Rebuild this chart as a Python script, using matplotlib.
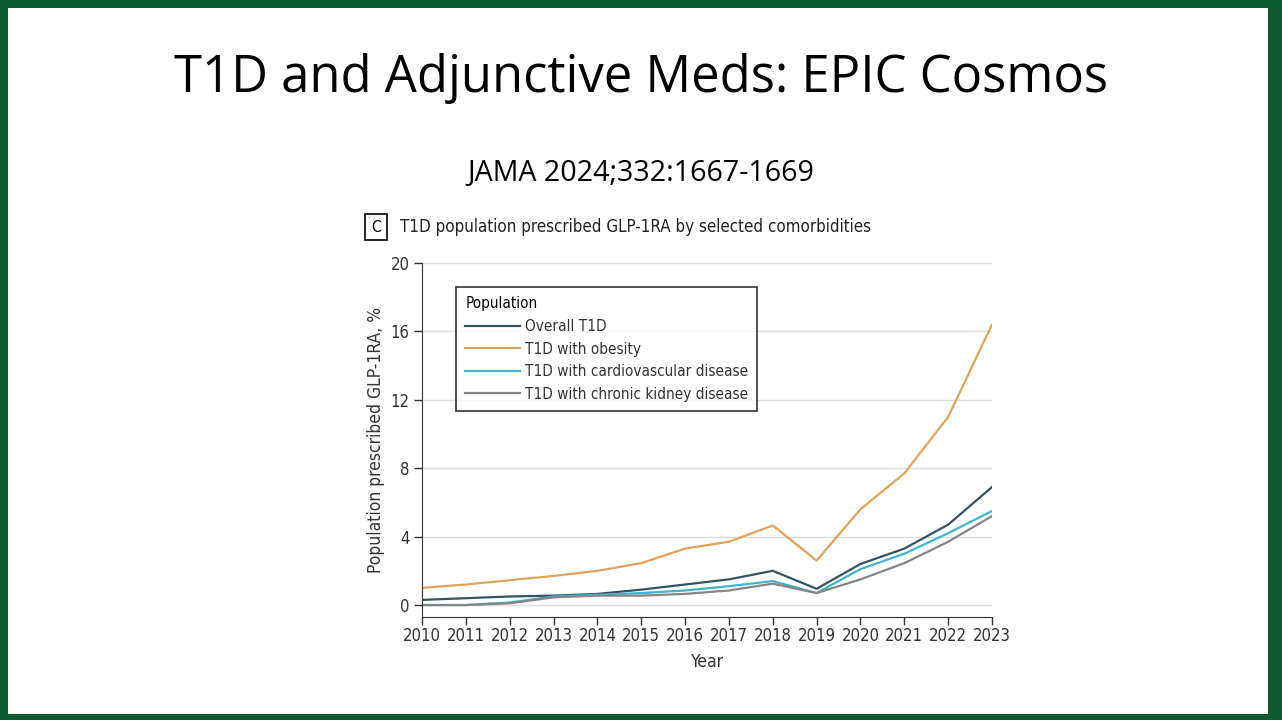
import matplotlib
matplotlib.use('Agg')
import matplotlib.pyplot as plt
from matplotlib.patches import Rectangle

years = [2010, 2011, 2012, 2013, 2014, 2015, 2016, 2017, 2018, 2019, 2020, 2021, 2022, 2023]
overall = [0.3, 0.4, 0.5, 0.55, 0.65, 0.9, 1.2, 1.5, 2.0, 0.95, 2.4, 3.3, 4.7, 6.9]
obesity = [1.0, 1.2, 1.45, 1.7, 2.0, 2.45, 3.3, 3.7, 4.65, 2.6, 5.6, 7.7, 11.0, 16.4]
cvd = [0.0, 0.0, 0.15, 0.5, 0.6, 0.7, 0.85, 1.1, 1.4, 0.7, 2.1, 3.0, 4.2, 5.5]
ckd = [0.0, 0.0, 0.1, 0.45, 0.55, 0.55, 0.65, 0.85, 1.25, 0.7, 1.5, 2.45, 3.7, 5.2]

series_names = ['Overall T1D', 'T1D with obesity', 'T1D with cardiovascular disease',
                'T1D with chronic kidney disease']
series_colors = ['#35535e', '#e0a458', '#3cb6cf', '#858585']
yticks = [0, 4, 8, 12, 16, 20]

narrow = ['DejaVu Sans']

fig = plt.figure(figsize=(12.82, 7.2), dpi=100)
fig.patch.set_facecolor('#0d5a32')
# white slide
fig.patches.append(Rectangle((8 / 1282, 6 / 720), 1260 / 1282, 706 / 720,
                             transform=fig.transFigure, facecolor='white',
                             edgecolor='none', zorder=-5))

fig.text(0.5, 1 - 78 / 720, 'T1D and Adjunctive Meds: EPIC Cosmos', ha='center', va='center',
         fontsize=36.5, family=['Open Sans', 'DejaVu Sans'], color='black')
fig.text(0.5, 1 - 173 / 720, 'JAMA 2024;332:1667-1669', ha='center', va='center',
         fontsize=20.6, family=['Open Sans', 'DejaVu Sans'], color='black')

# panel label
fig.text(376 / 1282, 1 - 227 / 720, 'C', ha='center', va='center', fontsize=11.5,
         family=narrow, stretch='condensed',
         bbox=dict(boxstyle='square,pad=0.35', facecolor='white',
                   edgecolor='black', linewidth=1.2))
fig.text(400 / 1282, 1 - 227 / 720, 'T1D population prescribed GLP-1RA by selected comorbidities',
         ha='left', va='center', fontsize=12.2, family=narrow, stretch='condensed',
         color='#222222')

ax = fig.add_axes([422 / 1282, 1 - 617 / 720, 570 / 1282, 354 / 720])
ax.set_zorder(2)
for name, vals, col in zip(series_names, [overall, obesity, cvd, ckd], series_colors):
    ax.plot(years, vals, color=col, linewidth=1.6, label=name)

ax.set_xlim(2010, 2023)
ax.set_ylim(-0.7, 20)
ax.set_xticks(years)
ax.set_yticks(yticks)
ax.tick_params(axis='both', labelsize=12, direction='out', length=6, width=1,
               color='#333333', pad=3)
ax.tick_params(axis='x', pad=1)
for lab in ax.get_xticklabels() + ax.get_yticklabels():
    lab.set_family(narrow)
    lab.set_stretch('condensed')
    lab.set_color('#333333')
ax.yaxis.grid(True, color='#dddddd', linewidth=1)
ax.set_axisbelow(True)
for s in ['top', 'right']:
    ax.spines[s].set_visible(False)
ax.spines['left'].set_color('#333333')
ax.spines['bottom'].set_color('#333333')

ax.set_xlabel('Year', fontsize=12.5, family=narrow, stretch='condensed', color='#333333', labelpad=6)
ax.set_ylabel('Population prescribed GLP-1RA, %', fontsize=12.5, family=narrow,
              stretch='condensed', color='#333333', labelpad=4)

leg = ax.legend(title='Population', loc='upper left', bbox_to_anchor=(0.06, 0.932),
                borderaxespad=0, title_fontsize=11, frameon=True, fancybox=False,
                handlelength=3.6, handletextpad=0.3, labelspacing=0.5,
                borderpad=0.6, alignment='left',
                prop={'family': narrow, 'size': 11, 'stretch': 'condensed'})
leg.get_frame().set_edgecolor('black')
leg.get_frame().set_linewidth(1.2)
leg.get_title().set_family(narrow)
leg.get_title().set_stretch('condensed')
for txt in leg.get_texts():
    txt.set_color('#333333')

fig.savefig('out.png', dpi=100, facecolor=fig.get_facecolor())
